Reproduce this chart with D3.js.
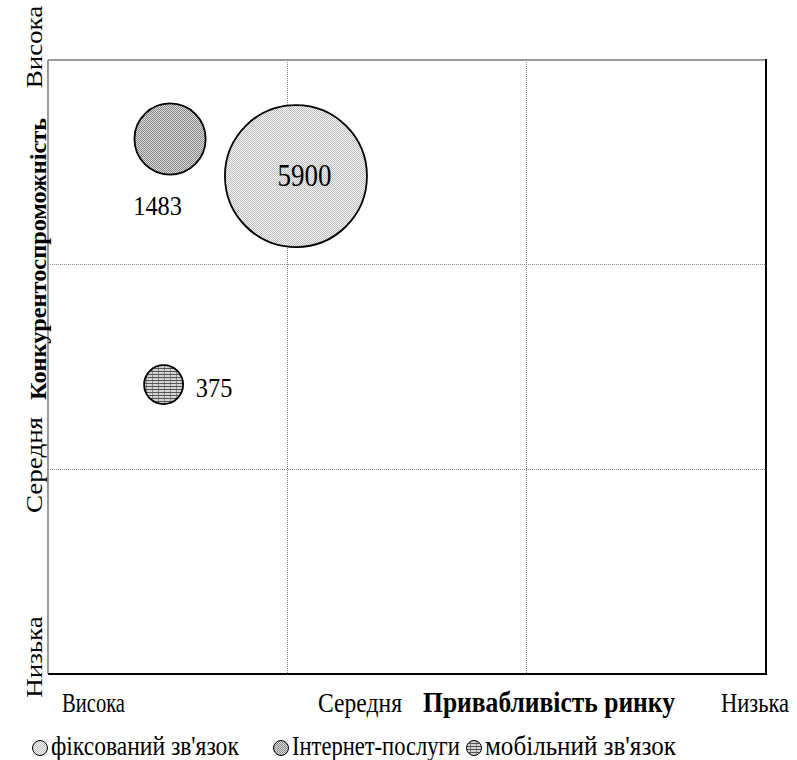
<!DOCTYPE html>
<html><head><meta charset="utf-8">
<script src="https://cdn.jsdelivr.net/npm/d3@7/dist/d3.min.js"></script>
<style>body{margin:0;background:#fff}svg{display:block}text{font-family:"Liberation Serif","Times New Roman",serif}</style>
</head><body>
<svg id="c" width="797" height="760"></svg>
<script>
const series = ["фіксований зв'язок", "Інтернет-послуги", "мобільний зв'язок"];
const xValues = [1.036, 0.51, 0.483];
const yValues = [2.433, 2.614, 1.414];
const sizes = [5900, 1483, 375];
const levelLabels = ["Висока", "Середня", "Низька"];
const xTitle = "Привабливість ринку";
const yTitle = "Конкурентоспроможність";

const svg = d3.select("#c");
const L = 48, T = 60, R = 766, B = 674;
const SX = 0.87, FS = 27;
const x = d3.scaleLinear().domain([0, 3]).range([L, R]);
const y = d3.scaleLinear().domain([0, 3]).range([B, T]);
const r = d3.scaleSqrt().domain([0, 5900]).range([0, 71]);

const defs = svg.append("defs");
function checker(id, dark, light) {
  const p = defs.append("pattern").attr("id", id).attr("width", 2).attr("height", 2).attr("patternUnits", "userSpaceOnUse");
  p.append("rect").attr("width", 2).attr("height", 2).attr("fill", light);
  p.append("rect").attr("width", 1).attr("height", 1).attr("fill", dark);
  p.append("rect").attr("x", 1).attr("y", 1).attr("width", 1).attr("height", 1).attr("fill", dark);
}
checker("p0", "#bdbdbd", "#f6f6f6");
checker("p1", "#858585", "#dedede");
{
  const p = defs.append("pattern").attr("id", "p2").attr("width", 6).attr("height", 3).attr("patternUnits", "userSpaceOnUse");
  p.append("rect").attr("width", 6).attr("height", 3).attr("fill", "#d4d4d4");
  p.append("rect").attr("y", 2).attr("width", 6).attr("height", 1).attr("fill", "#555");
  p.append("rect").attr("x", 2).attr("width", 1).attr("height", 2).attr("fill", "#888");
}
const fills = ["url(#p0)", "url(#p1)", "url(#p2)"];

// helper: horizontally fit a text to a target width via transform
function fitText(sel, cx, by, w, anchor) {
  const nat = sel.node().getComputedTextLength();
  sel.attr("text-anchor", anchor).attr("transform", `translate(${cx},${by}) scale(${w / nat},1)`);
}

// plot frame
svg.append("line").attr("x1", L).attr("x2", R).attr("y1", T).attr("y2", T).attr("stroke", "#999").attr("stroke-width", 2);
svg.append("line").attr("x1", L).attr("x2", L).attr("y1", T).attr("y2", B).attr("stroke", "#999").attr("stroke-width", 2);
// grid
[1, 2].forEach(v => {
  svg.append("line").attr("x1", x(v)).attr("x2", x(v)).attr("y1", T).attr("y2", B).attr("stroke", "#888").attr("stroke-width", 1).attr("stroke-dasharray", "1,1").attr("shape-rendering", "crispEdges");
  svg.append("line").attr("x1", L).attr("x2", R).attr("y1", y(v)).attr("y2", y(v)).attr("stroke", "#888").attr("stroke-width", 1).attr("stroke-dasharray", "1,1").attr("shape-rendering", "crispEdges");
});
svg.append("line").attr("x1", L).attr("x2", R + 1).attr("y1", B).attr("y2", B).attr("stroke", "#000").attr("stroke-width", 2);
svg.append("line").attr("x1", R).attr("x2", R).attr("y1", T - 1).attr("y2", B).attr("stroke", "#000").attr("stroke-width", 2);

// bubbles
const idx = d3.range(series.length);
svg.selectAll("circle.b").data(idx).join("circle").attr("class", "b")
  .attr("cx", i => x(xValues[i])).attr("cy", i => y(yValues[i]))
  .attr("r", i => Math.max(r(sizes[i]), 19.5)).attr("fill", i => fills[i])
  .attr("stroke", "#000").attr("stroke-width", 1.8);

// data labels
const lblOff = [[8.5, 10], [-12.5, 76], [50.5, 12.5]];
const lblFs = [31, 28, 28];
svg.selectAll("text.v").data(idx).join("text").attr("class", "v")
  .attr("transform", i => `translate(${x(xValues[i]) + lblOff[i][0]},${y(yValues[i]) + lblOff[i][1]}) scale(${SX},1)`)
  .attr("text-anchor", "middle").attr("font-size", i => lblFs[i])
  .text(i => sizes[i]);

// x level labels
const xLabPos = [93.5, 360, 755];
const xLabW = [63, 84, 68];
levelLabels.forEach((t, i) => {
  const s = svg.append("text").attr("font-size", FS).text(t);
  fitText(s, xLabPos[i], 712, xLabW[i], "middle");
});
{
  const s = svg.append("text").attr("font-size", 29).attr("font-weight", "bold").text(xTitle);
  fitText(s, 549, 712, 252, "middle");
}

// y level labels (top to bottom)
const yLabPos = [47, 465, 657];
levelLabels.forEach((t, i) => {
  svg.append("text").attr("transform", `translate(42,${yLabPos[i]}) scale(${SX},1) rotate(-90)`).attr("text-anchor", "middle").attr("font-size", FS).text(t);
});
svg.append("text").attr("transform", `translate(46,259) scale(0.95,1) rotate(-90)`).attr("text-anchor", "middle").attr("font-size", 24.3).attr("font-weight", "bold").text(yTitle);

// legend
const legX = [40, 281, 474];
const legW = [188, 168, 191];
idx.forEach(i => {
  svg.append("circle").attr("cx", legX[i]).attr("cy", 748).attr("r", 7.5).attr("fill", fills[i]).attr("stroke", "#000").attr("stroke-width", 1);
  const s = svg.append("text").attr("font-size", FS).text(series[i]);
  fitText(s, legX[i] + 11, 755, legW[i], "start");
});
</script>
</body></html>
